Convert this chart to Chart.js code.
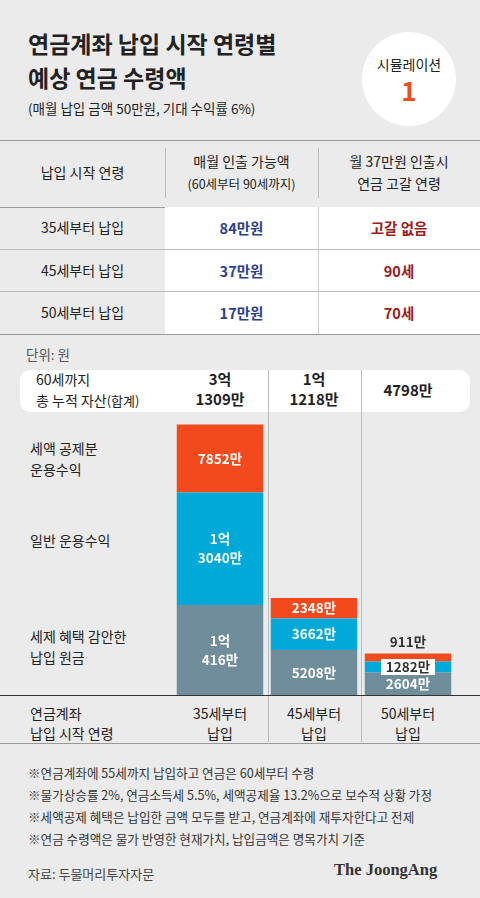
<!DOCTYPE html>
<html><head><meta charset="utf-8">
<script src="https://cdn.jsdelivr.net/npm/chart.js@4"></script>
<style>
body{margin:0;width:480px;height:898px;background:#ebebeb;font-family:"Noto Sans CJK KR","Noto Sans",sans-serif;color:#222;position:relative;overflow:hidden}
.a{position:absolute;white-space:nowrap}
.c{text-align:center}
</style></head><body>
<div class="a" style="left:28px;top:26px;font-size:23px;font-weight:700;line-height:34px">연금계좌 납입 시작 연령별<br>예상 연금 수령액</div>
<div class="a" style="left:28px;top:98px;font-size:13.5px">(매월 납입 금액 50만원, 기대 수익률 6%)</div>
<div class="a c" style="left:362px;top:32px;width:94px;height:94px;border-radius:50%;background:#fff">
 <div style="margin-top:22px;font-size:14px;line-height:20px">시뮬레이션</div>
 <div style="font-size:26px;font-weight:700;color:#f04a1f;line-height:32px">1</div></div>

<div class="a" style="left:0;top:140px;width:480px;height:66px;border-top:1px solid #999;border-bottom:1px solid #999"></div>
<div class="a" style="left:165px;top:148px;height:50px;border-left:1px solid #bbb"></div>
<div class="a" style="left:318px;top:148px;height:50px;border-left:1px solid #bbb"></div>
<div class="a c" style="left:0;top:162px;width:165px;font-size:14px">납입 시작 연령</div>
<div class="a c" style="left:165px;top:150px;width:153px;font-size:14px;line-height:22px">매월 인출 가능액<br><span style="font-size:12.5px">(60세부터 90세까지)</span></div>
<div class="a c" style="left:318px;top:150px;width:162px;font-size:14px;line-height:22px">월 37만원 인출시<br>연금 고갈 연령</div>

<div class="a" style="left:165px;top:207px;width:315px;height:128px;background:#fff"></div>
<div class="a" style="left:0;top:249px;width:480px;border-top:1px solid #bbb"></div>
<div class="a" style="left:0;top:291px;width:480px;border-top:1px solid #bbb"></div>
<div class="a" style="left:0;top:334px;width:480px;border-top:1px solid #999"></div>
<div class="a" style="left:318px;top:207px;height:127px;border-left:1px solid #ccc"></div>
<div id="rows"></div>

<div class="a" style="left:26px;top:344px;font-size:13.5px;color:#555">단위: 원</div>
<div class="a" style="left:20px;top:370px;width:450px;height:42px;background:#fff;border-radius:10px"></div>
<div class="a" style="left:36px;top:369px;font-size:14px;line-height:21px">60세까지<br>총 누적 자산<span style="font-size:13px">(합계)</span></div>
<div id="tot"></div>
<div class="a" style="left:268px;top:370px;height:372px;border-left:1px solid #bbb"></div>
<div class="a" style="left:361px;top:370px;height:372px;border-left:1px solid #bbb"></div>

<div class="a" style="left:30px;top:438px;font-size:14px;line-height:21px">세액 공제분<br>운용수익</div>
<div class="a" style="left:30px;top:530px;font-size:14px">일반 운용수익</div>
<div class="a" style="left:30px;top:626px;font-size:14px;line-height:21px">세제 혜택 감안한<br>납입 원금</div>
<div class="a" style="left:165px;top:410px;width:290px;height:285px"><canvas id="ch"></canvas></div>
<div class="a" style="left:0;top:695px;width:480px;border-top:1.5px solid #333"></div>
<div class="a" style="left:30px;top:703px;font-size:14px;line-height:20px">연금계좌<br>납입 시작 연령</div>
<div id="xl"></div>
<div class="a" style="left:0;top:743px;width:480px;border-top:1px solid #999"></div>
<div class="a" style="left:28px;top:762px;font-size:12.6px;line-height:22px;color:#333">※연금계좌에 55세까지 납입하고 연금은 60세부터 수령<br>※물가상승률 2%, 연금소득세 5.5%, 세액공제율 13.2%으로 보수적 상황 가정<br>※세액공제 혜택은 납입한 금액 모두를 받고, 연금계좌에 재투자한다고 전제<br>※연금 수령액은 물가 반영한 현재가치, 납입금액은 명목가치 기준</div>
<div class="a" style="left:28px;top:864px;font-size:13px;color:#444">자료: 두물머리투자자문</div>
<div class="a" style="left:334px;top:860px;font-size:16.5px;font-weight:700;font-family:'Liberation Serif',serif;color:#333">The JoongAng</div>
<script>
const startAges = ['35세부터 납입', '45세부터 납입', '50세부터 납입'];
const monthlyPay = ['84만원', '37만원', '17만원'];
const depleteAge = ['고갈 없음', '90세', '70세'];
const totals = ['3억<br>1309만', '1억<br>1218만', '4798만'];
const principal = [10416, 5208, 2604];
const generalReturn = [13040, 3662, 1282];
const taxReturn = [7852, 2348, 911];
const labelPrincipal = ['1억\n416만', '5208만', '2604만'];
const labelGeneral = ['1억\n3040만', '3662만', '1282만'];
const labelTax = ['7852만', '2348만', '911만'];

let rows = '';
startAges.forEach((s, i) => {
  const top = 207 + i * 42.5 + 10;
  rows += `<div class="a c" style="left:0;top:${top}px;width:165px;font-size:14px">${s}</div>`;
  rows += `<div class="a c" style="left:165px;top:${top}px;width:153px;font-size:14.5px;font-weight:700;color:#2d3f8f">${monthlyPay[i]}</div>`;
  rows += `<div class="a c" style="left:318px;top:${top}px;width:162px;font-size:14.5px;font-weight:700;color:#a01a1a">${depleteAge[i]}</div>`;
});
document.getElementById('rows').innerHTML = rows;
const cx = [220, 314, 408];
let t = '', x = '';
totals.forEach((v, i) => {
  const one = !v.includes('<br>');
  t += `<div class="a c" style="left:${cx[i]-50}px;top:${one?380:369}px;width:100px;font-size:15px;font-weight:700;line-height:20px">${v}</div>`;
  x += `<div class="a c" style="left:${cx[i]-50}px;top:703px;width:100px;font-size:14px;line-height:20px">${startAges[i].replace(' ', '<br>')}</div>`;
});
document.getElementById('tot').innerHTML = t;
document.getElementById('xl').innerHTML = x;

const segLabels = {
  id: 'segLabels',
  afterDatasetsDraw(chart) {
    const ctx = chart.ctx;
    const labs = [labelPrincipal, labelGeneral, labelTax];
    ctx.save();
    ctx.textAlign = 'center'; ctx.textBaseline = 'middle';
    ctx.font = 'bold 13.5px "Noto Sans CJK KR"';
    chart.data.datasets.forEach((ds, di) => {
      chart.getDatasetMeta(di).data.forEach((bar, i) => {
        const lines = labs[di][i].split('\n');
        let y = (bar.y + bar.base) / 2;
        if (i === 2 && di === 2) { ctx.fillStyle = '#333'; y = bar.y - 12; }
        else if (i === 2 && di === 1) {
          ctx.fillStyle = '#fff'; ctx.fillRect(bar.x - 27, y - 8, 54, 16);
          ctx.fillStyle = '#333';
        } else ctx.fillStyle = '#fff';
        lines.forEach((l, k) => ctx.fillText(l, bar.x, y + (k - (lines.length - 1) / 2) * 19));
      });
    });
    ctx.restore();
  }
};

new Chart(document.getElementById('ch'), {
  type: 'bar',
  data: {
    labels: startAges,
    datasets: [
      { data: principal, backgroundColor: '#6f8d9a' },
      { data: generalReturn, backgroundColor: '#00a9d8' },
      { data: taxReturn, backgroundColor: '#f24a1d' }
    ]
  },
  options: {
    responsive: true, maintainAspectRatio: false, animation: false,
    layout: { padding: { left: 8, right: 0, top: 0, bottom: 0 } },
    plugins: { legend: { display: false }, tooltip: { enabled: false } },
    datasets: { bar: { barPercentage: 1, categoryPercentage: 0.92 } },
    scales: {
      x: { stacked: true, display: false },
      y: { stacked: true, display: false, min: 0, max: 33000 }
    }
  },
  plugins: [segLabels]
});
</script>
</body></html>
